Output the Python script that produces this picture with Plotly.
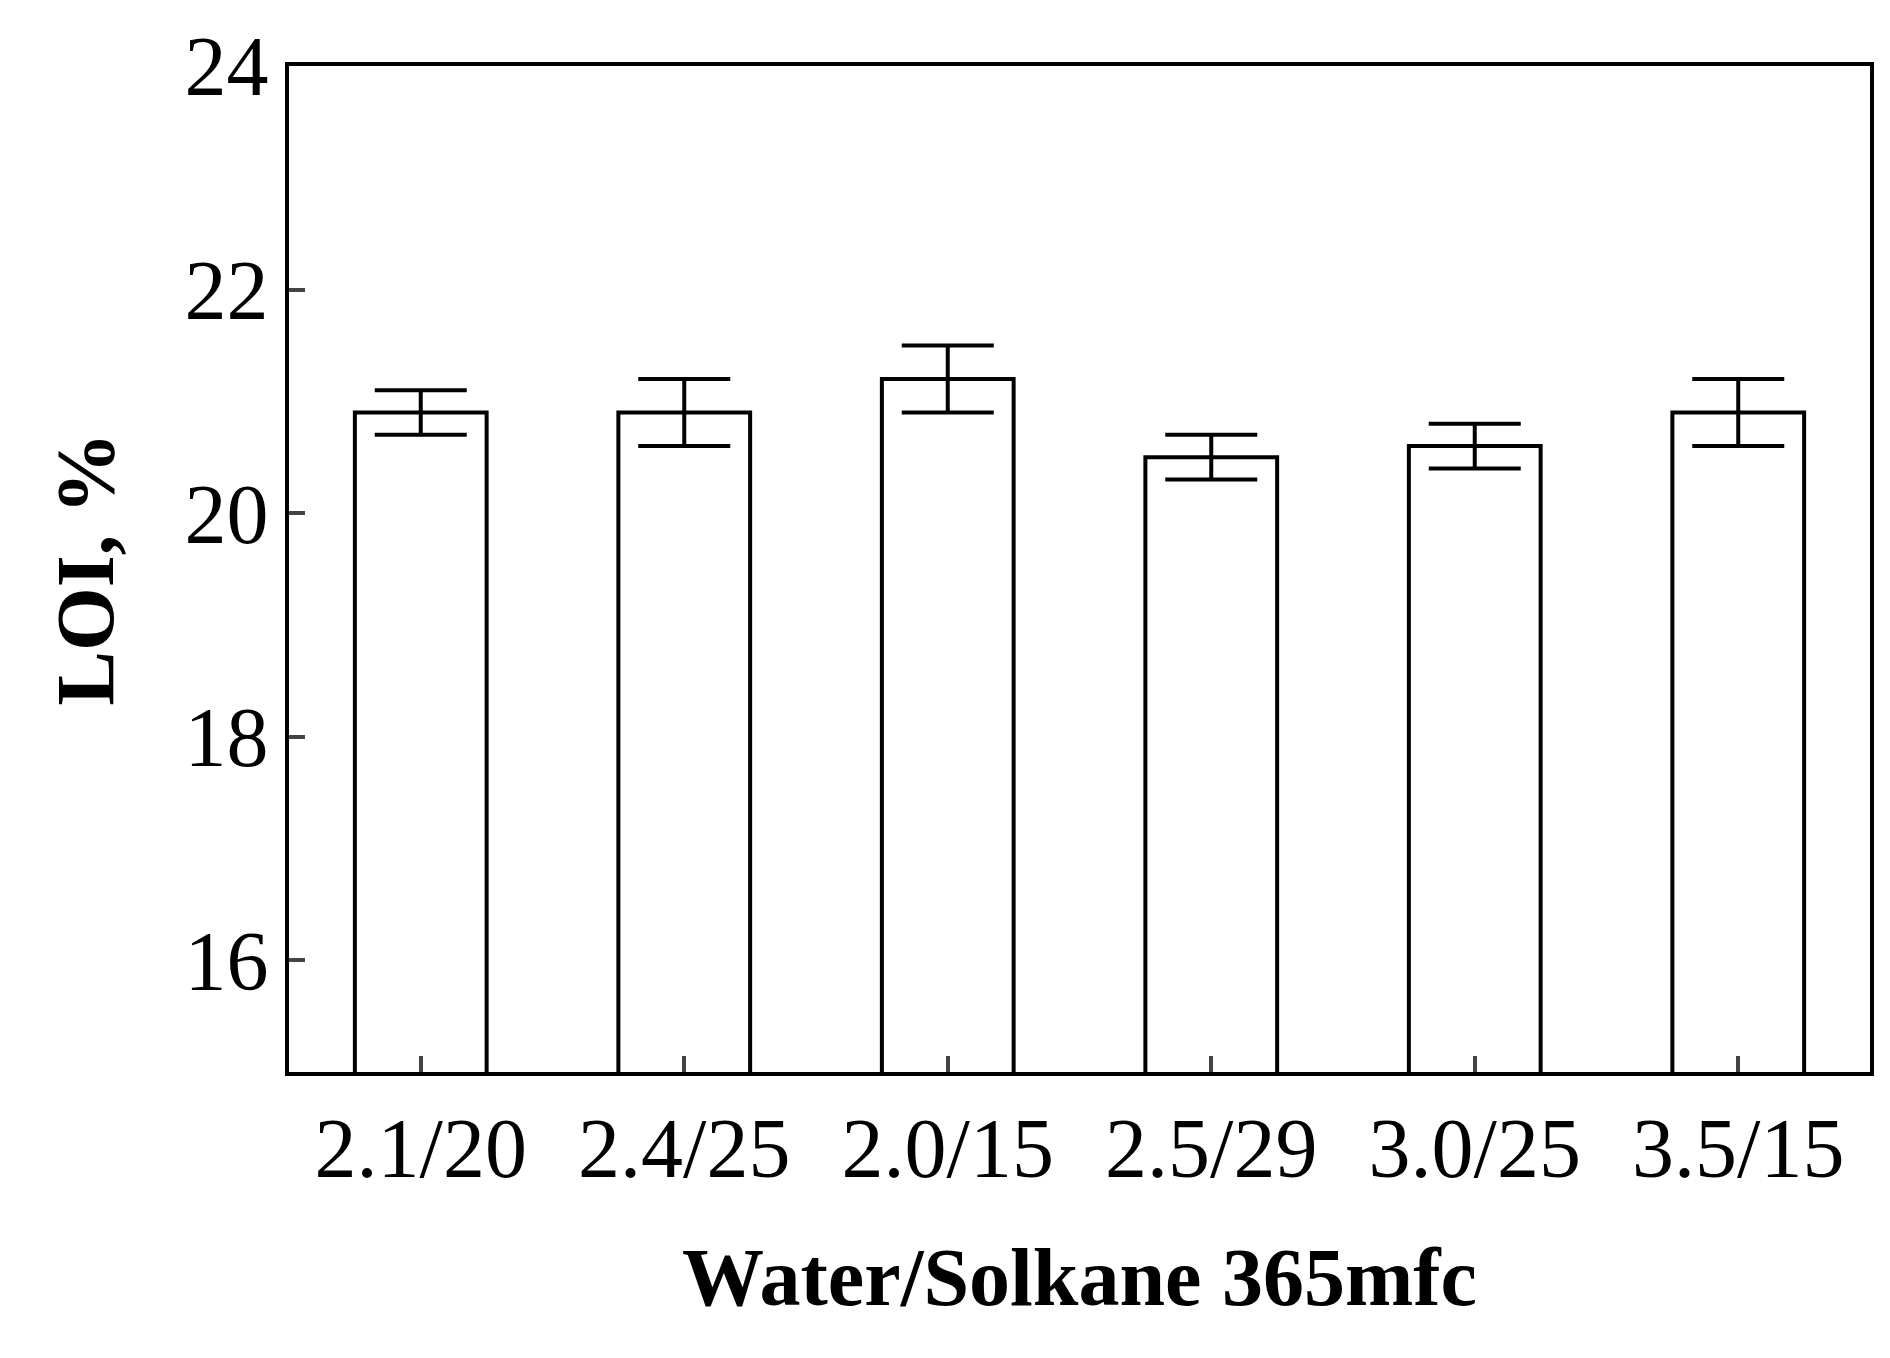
import plotly.graph_objects as go

ratios = ["2.1/20", "2.4/25", "2.0/15", "2.5/29", "3.0/25", "3.5/15"]
loi = [20.9, 20.9, 21.2, 20.5, 20.6, 20.9]
loi_err = [0.2, 0.3, 0.3, 0.2, 0.2, 0.3]

font = "Liberation Serif"

fig = go.Figure(go.Bar(
    x=ratios, y=loi, width=0.5,
    marker=dict(color="white", line=dict(color="black", width=4)),
    error_y=dict(type="data", array=loi_err, color="black", thickness=4, width=46),
))

fig.update_layout(
    width=1890, height=1358, plot_bgcolor="white", paper_bgcolor="white",
    margin=dict(l=281, r=28, t=46, b=294), showlegend=False,
    font=dict(family=font, color="black"),
)
fig.update_xaxes(
    showline=True, linecolor="black", linewidth=3.5, mirror=True,
    ticks="inside", ticklen=16, tickwidth=3.5, tickfont=dict(size=84),
    title=dict(text="<b>Water/Solkane 365mfc</b>", font=dict(size=82), standoff=55),
)
fig.update_yaxes(
    range=[15, 24], tickvals=[16, 18, 20, 22, 24],
    showline=True, linecolor="black", linewidth=3.5, mirror=True,
    ticks="inside", ticklen=16, tickwidth=3.5, tickfont=dict(size=84),
    showgrid=False, zeroline=False,
    title=dict(text="<b>LOI, %</b>", font=dict(size=82), standoff=45),
)
fig.write_html("out.html")
